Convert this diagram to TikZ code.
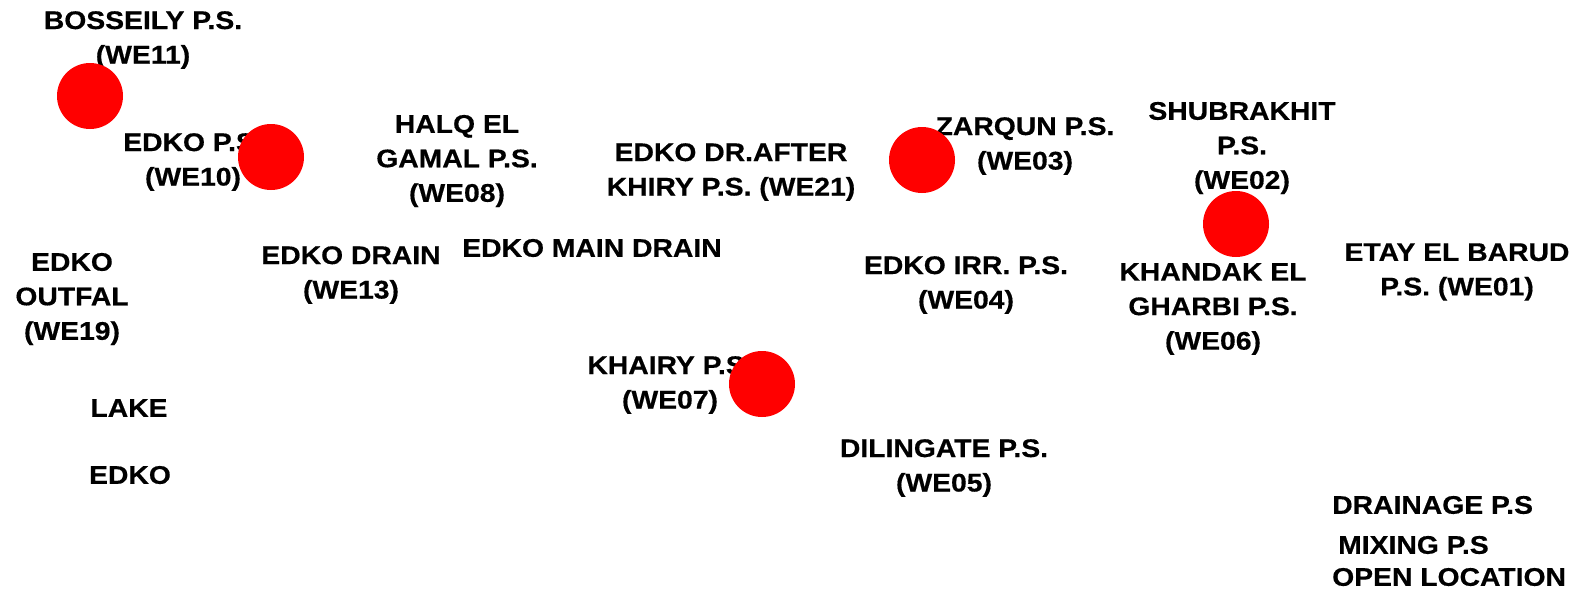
\documentclass[tikz,border=0pt]{standalone}
\usepackage{fontspec}
\setmainfont{Liberation Sans}[FakeStretch=1.11,BoldFeatures={FakeBold=0.5}]
\begin{document}
\begin{tikzpicture}[x=1pt,y=-1pt,
  lbl/.style={font=\bfseries\fontsize{25.5}{34.5}\selectfont, align=center, inner sep=0pt},
  legend/.style={font=\bfseries\fontsize{25.5}{34.5}\selectfont, anchor=west, inner sep=0pt},
  site/.style={circle, fill=red, draw=none, minimum size=66pt, inner sep=0pt}]
\useasboundingbox (0,0) rectangle (1587,592);

% station labels
\node[lbl] (we11) at (143,40) {BOSSEILY P.S.\\(WE11)};
\node[lbl] (we10) at (193,162) {EDKO P.S.\\(WE10)};
\node[lbl] (we08) at (457,161) {HALQ EL\\GAMAL P.S.\\(WE08)};
\node[lbl] (we21) at (731,172) {EDKO DR.AFTER\\KHIRY P.S. (WE21)};
\node[lbl] (we03) at (1025,146) {ZARQUN P.S.\\(WE03)};
\node[lbl] (we02) at (1242,148) {SHUBRAKHIT\\P.S.\\(WE02)};
\node[lbl] (we13) at (351,275) {EDKO DRAIN\\(WE13)};
\node[lbl] (main) at (592,248) {EDKO MAIN DRAIN};
\node[lbl] (we19) at (72,299) {EDKO\\OUTFAL\\(WE19)};
\node[lbl] (lake) at (129,408) {LAKE};
\node[lbl] (edko) at (130,475) {EDKO};
\node[lbl] (we04) at (966,285) {EDKO IRR. P.S.\\(WE04)};
\node[lbl] (we06) at (1213,309) {KHANDAK EL\\GHARBI P.S.\\(WE06)};
\node[lbl] (we01) at (1457,272) {ETAY EL BARUD\\P.S. (WE01)};
\node[lbl] (we07) at (670,385) {KHAIRY P.S.\\(WE07)};
\node[lbl] (we05) at (944,468) {DILINGATE P.S.\\(WE05)};

% legend
\node[legend] (drain) at (1332,505) {DRAINAGE P.S};
\node[legend] (mix) at (1338,545) {MIXING P.S};
\node[legend] (open) at (1332,577) {OPEN LOCATION};

% sampling points
\node[site] (s1) at (90,96) {};
\node[site] (s2) at (271,157) {};
\node[site] (s3) at (922,160) {};
\node[site] (s4) at (1236,224) {};
\node[site] (s5) at (762,384) {};
\end{tikzpicture}
\end{document}
